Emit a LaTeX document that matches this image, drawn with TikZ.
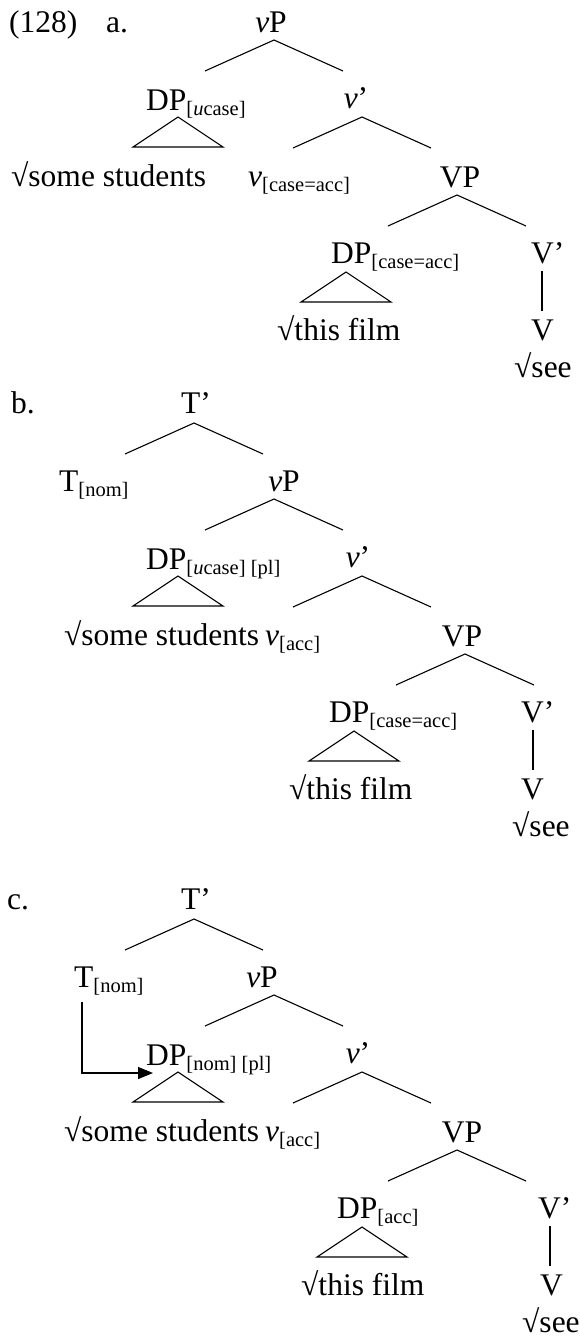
\documentclass[tikz,border=0pt]{standalone}
\usepackage{fontspec}
\setmainfont{Liberation Serif}
\usetikzlibrary{arrows.meta}
\newcommand{\lsub}[1]{\raisebox{-5pt}{\fontsize{20.5}{21}\selectfont #1}}
\newcommand{\fork}[1]{\draw[br] (#1) ++(-69,31) -- (#1) -- ++(69,31);}
\newcommand{\tri}[1]{\draw[br] (#1) -- ++(-45,30) -- ++(90,0) -- cycle;}
\begin{document}
\begin{tikzpicture}[x=1pt,y=-1pt,
  lab/.style={inner sep=0pt,anchor=base west,font=\fontsize{31.5}{35}\selectfont},
  clab/.style={inner sep=0pt,anchor=base,font=\fontsize{31.5}{35}\selectfont},
  br/.style={line width=1.1pt},
  arr/.style={line width=1.3pt,-{Triangle[length=15pt,width=12pt]}}]
\useasboundingbox (0,0) rectangle (579,1342);

% ---------------- (128) a.
\node[lab] (ex) at (9,32) {(128)};
\node[lab] (alab) at (106,32) {a.};
\node[clab] (a-vP) at (271,32) {\textit{v}P};
\node[lab] (a-DP) at (146,110) {DP\lsub{[\textit{u}case]}};
\node[clab] (a-vbar) at (356,108) {\textit{v}’};
\node[lab] (a-some) at (11,186) {√some students};
\node[lab] (a-v) at (248,186) {\textit{v}\lsub{[case=acc]}};
\node[clab] (a-VP) at (460,187) {VP};
\node[lab] (a-DP2) at (331,263) {DP\lsub{[case=acc]}};
\node[lab] (a-Vbar) at (531,263) {V’};
\node[lab] (a-film) at (277,340) {√this film};
\node[lab] (a-V) at (531,340) {V};
\node[lab] (a-see) at (514,377) {√see};
\coordinate (a-f1) at (274,40);
\coordinate (a-f2) at (362,117);
\coordinate (a-f3) at (457,195);
\coordinate (a-t1) at (178,117);
\coordinate (a-t2) at (346,272);
\coordinate (a-l1) at (542,271);
\coordinate (a-l2) at (542,311);
\fork{a-f1} \fork{a-f2} \fork{a-f3}
\tri{a-t1} \tri{a-t2}
\draw[br] (a-l1) -- (a-l2);

% ---------------- b.
\begin{scope}[shift={(0,459)}]
\node[lab] (blab) at (11,-46) {b.};
\node[clab] (b-Tbar) at (196,-46) {T’};
\node[lab] (b-T) at (59,32) {T\lsub{[nom]}};
\node[clab] (b-vP) at (284,32) {\textit{v}P};
\node[lab] (b-DP) at (146,110) {DP\lsub{[\textit{u}case] [pl]}};
\node[clab] (b-vbar) at (358,108) {\textit{v}’};
\node[lab] (b-some) at (64,186) {√some students};
\node[lab] (b-v) at (265,186) {\textit{v}\lsub{[acc]}};
\node[clab] (b-VP) at (462,187) {VP};
\node[lab] (b-DP2) at (329,263) {DP\lsub{[case=acc]}};
\node[lab] (b-Vbar) at (521,263) {V’};
\node[lab] (b-film) at (289,340) {√this film};
\node[lab] (b-V) at (521,340) {V};
\node[lab] (b-see) at (512,377) {√see};
\coordinate (b-f0) at (194,-36);
\coordinate (b-f1) at (274,40);
\coordinate (b-f2) at (362,117);
\coordinate (b-f3) at (465,195);
\coordinate (b-t1) at (178,117);
\coordinate (b-t2) at (354,272);
\coordinate (b-l1) at (533,271);
\coordinate (b-l2) at (533,311);
\fork{b-f0} \fork{b-f1} \fork{b-f2} \fork{b-f3}
\tri{b-t1} \tri{b-t2}
\draw[br] (b-l1) -- (b-l2);
\end{scope}

% ---------------- c.
\begin{scope}[shift={(0,955)}]
\node[lab] (clab) at (7,-46) {c.};
\node[clab] (c-Tbar) at (196,-46) {T’};
\node[lab] (c-T) at (74,32) {T\lsub{[nom]}};
\node[clab] (c-vP) at (262,32) {\textit{v}P};
\node[lab] (c-DP) at (146,110) {DP\lsub{[nom] [pl]}};
\node[clab] (c-vbar) at (358,108) {\textit{v}’};
\node[lab] (c-some) at (64,186) {√some students};
\node[lab] (c-v) at (265,186) {\textit{v}\lsub{[acc]}};
\node[clab] (c-VP) at (462,187) {VP};
\node[lab] (c-DP2) at (337,263) {DP\lsub{[acc]}};
\node[lab] (c-Vbar) at (538,263) {V’};
\node[lab] (c-film) at (301,340) {√this film};
\node[lab] (c-V) at (540,340) {V};
\node[lab] (c-see) at (522,377) {√see};
\coordinate (c-f0) at (194,-36);
\coordinate (c-f1) at (274,40);
\coordinate (c-f2) at (362,117);
\coordinate (c-f3) at (457,195);
\coordinate (c-t1) at (178,117);
\coordinate (c-t2) at (362,272);
\coordinate (c-l1) at (550,271);
\coordinate (c-l2) at (550,311);
\coordinate (c-a0) at (82,47);
\coordinate (c-a1) at (153,118);
\fork{c-f0} \fork{c-f1} \fork{c-f2} \fork{c-f3}
\tri{c-t1} \tri{c-t2}
\draw[br] (c-l1) -- (c-l2);
\draw[arr] (c-a0) |- (c-a1);
\end{scope}
\end{tikzpicture}
\end{document}
